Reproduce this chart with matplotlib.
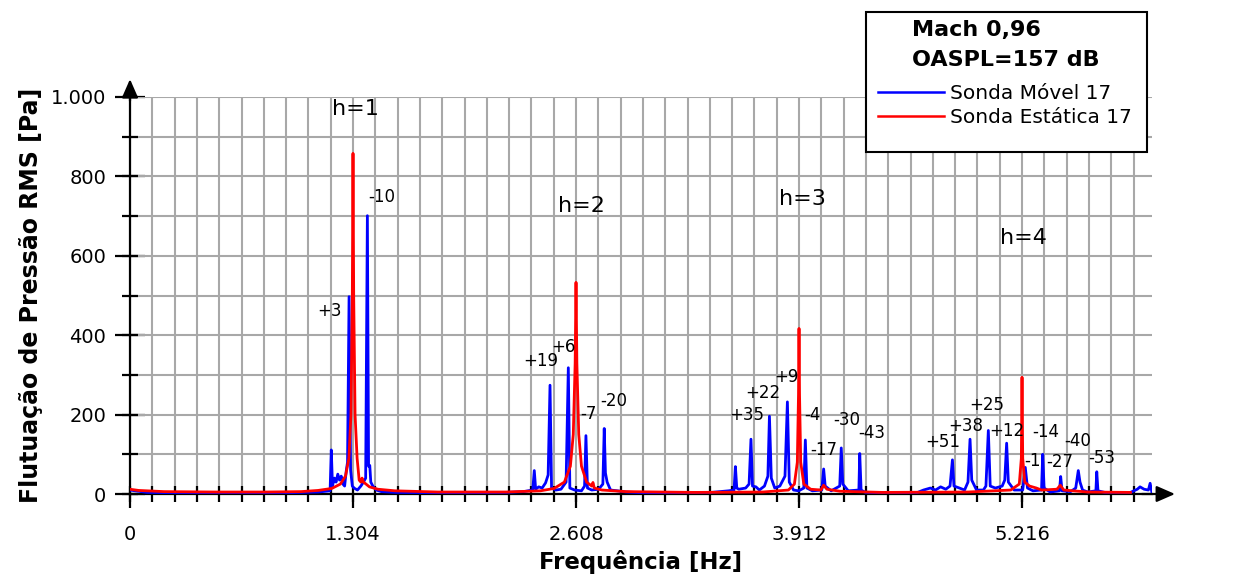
import matplotlib
matplotlib.use("Agg")
import matplotlib.pyplot as plt
from matplotlib.lines import Line2D
from matplotlib.patches import Rectangle
import numpy as np

# ---- data (Hz, Pa) ----
BLUE_FREQ = [
    0, 30, 100, 300, 600, 900, 1100,
    1170, 1177, 1184, 1195, 1205, 1215, 1225, 1235, 1245, 1255, 1265, 1272, 1281, 1290,
    1300, 1310, 1330, 1350, 1365, 1378, 1388, 1395, 1402, 1408, 1420, 1440, 1470, 1550,
    1900, 2200, 2300, 2355, 2364, 2372, 2390, 2410, 2430, 2445, 2456, 2465, 2490, 2520,
    2550, 2563, 2572, 2600, 2640, 2658, 2666, 2675, 2700, 2740, 2765, 2773, 2780, 2790,
    2810, 2850, 2900, 3000, 3200, 3400, 3500,
    3532, 3540, 3548, 3560, 3600, 3620, 3631, 3640, 3660, 3680, 3710, 3730, 3739, 3750,
    3770, 3800, 3830, 3844, 3855, 3880, 3910, 3940, 3949, 3958, 3990, 4045, 4056, 4065,
    4100, 4150, 4159, 4168, 4200, 4262, 4267, 4275, 4300, 4450, 4600,
    4640, 4680, 4710, 4740, 4770, 4795, 4809, 4818, 4850, 4880, 4900, 4912, 4922, 4950,
    4990, 5005, 5019, 5030, 5060, 5100, 5115, 5126, 5136, 5170, 5220, 5235, 5248, 5280,
    5330, 5337, 5345, 5380, 5435, 5442, 5450, 5500, 5530, 5545, 5555, 5570, 5600, 5648,
    5653, 5660, 5700, 5850, 5890, 5906, 5930, 5955, 5965, 5975,
]
BLUE_AMP = [
    10, 8, 4, 3, 2, 3, 5,
    8, 111, 20, 40, 30, 50, 35, 45, 25, 20, 60, 80, 497, 60,
    20, 15, 10, 20, 30, 40, 701, 70, 72, 30, 20, 10, 6, 4,
    3, 4, 6, 10, 59, 12, 18, 15, 28, 48, 274, 15, 10, 12,
    30, 318, 15, 10, 8, 20, 147, 15, 10, 12, 25, 165, 53, 30,
    10, 8, 5, 3, 3, 4, 8,
    10, 69, 15, 12, 15, 25, 138, 20, 18, 10, 20, 45, 196, 40,
    15, 20, 45, 232, 30, 10, 8, 15, 136, 15, 8, 10, 63, 20,
    8, 20, 116, 25, 8, 10, 102, 10, 4, 3, 3,
    10, 15, 10, 18, 12, 20, 86, 20, 15, 10, 30, 138, 35, 10,
    10, 20, 160, 20, 15, 20, 35, 128, 30, 10, 10, 67, 15, 8,
    10, 100, 15, 5, 8, 44, 8, 6, 15, 59, 30, 10, 5, 8,
    56, 8, 4, 4, 12, 18, 12, 10, 27, 5,
]

RED_FREQ = [
    0, 50, 200, 500, 800, 1000, 1100, 1180, 1230, 1260, 1280, 1292, 1300, 1304, 1308,
    1316, 1328, 1340, 1350, 1357, 1365, 1380, 1400, 1450, 1550, 1800, 2200, 2400, 2480,
    2540, 2575, 2592, 2603, 2608, 2613, 2624, 2640, 2670, 2700, 2707, 2715, 2760, 2900,
    3300, 3700, 3850, 3885, 3902, 3909, 3912, 3915, 3922, 3940, 3980, 4040, 4056, 4075,
    4150, 4400, 4900, 5150, 5200, 5212, 5216, 5220, 5232, 5260, 5300, 5330, 5420, 5440,
    5460, 5600, 5850,
]
RED_AMP = [
    12, 9, 6, 5, 5, 6, 9, 14, 25, 45, 90, 200, 500, 858, 500,
    200, 90, 35, 30, 40, 30, 25, 18, 12, 8, 5, 5, 8, 14,
    30, 70, 150, 330, 533, 330, 150, 70, 30, 20, 29, 15, 10, 6,
    4, 5, 10, 25, 80, 250, 417, 250, 80, 25, 12, 10, 22, 12,
    7, 4, 5, 10, 25, 90, 294, 90, 30, 20, 15, 10, 12, 22,
    10, 5, 4,
]

HARM_TEXT = ["h=1", "h=2", "h=3", "h=4"]
HARM_X = [1321, 2637, 3930, 5222]
HARM_Y = [970, 725, 743, 645]

PEAK_TEXT = ["+3", "-10", "+19", "+6", "-7", "-20", "+35", "+22", "+9", "-4", "-17",
             "-30", "-43", "+51", "+38", "+25", "+12", "-1", "-14", "-27", "-40", "-53"]
PEAK_X = [1167, 1471, 2403, 2535, 2681, 2827, 3605, 3701, 3836, 3988, 4058,
          4190, 4339, 4754, 4888, 5011, 5128, 5277, 5356, 5438, 5543, 5681]
PEAK_Y = [460, 749, 334, 370, 202, 234, 198, 254, 295, 200, 111,
          186, 154, 131, 171, 224, 159, 83, 156, 81, 134, 91]

X_TICKS = [0, 1304, 2608, 3912, 5216]
X_TICK_LABELS = ["0", "1.304", "2.608", "3.912", "5.216"]
Y_TICKS = [0, 200, 400, 600, 800, 1000]
Y_TICK_LABELS = ["0", "200", "400", "600", "800", "1.000"]

BLUE = "#0000ff"
RED = "#ff0000"
GRID = "#a8a8a8"

plt.rcParams["font.family"] = "DejaVu Sans"

fig = plt.figure(figsize=(12.43, 5.78), dpi=100)
ax = fig.add_axes([130 / 1243, 84 / 578, 1022 / 1243, 397 / 578])

ax.plot(BLUE_FREQ, BLUE_AMP, color=BLUE, lw=2, zorder=3)
ax.plot(RED_FREQ, RED_AMP, color=RED, lw=2, zorder=4)

ax.set_xlim(0, 5976)
ax.set_ylim(0, 1000)

# ticks and grid
ax.set_xticks(X_TICKS)
ax.set_xticklabels(X_TICK_LABELS)
ax.set_xticks(np.arange(0, 5900, 130.4), minor=True)
ax.set_yticks(Y_TICKS)
ax.set_yticklabels(Y_TICK_LABELS)
ax.set_yticks(np.arange(0, 1001, 100), minor=True)
ax.xaxis.remove_overlapping_locs = False
ax.yaxis.remove_overlapping_locs = False

ax.tick_params(axis="x", which="major", direction="out", length=10, width=1.6,
               labelsize=14, pad=12)
ax.tick_params(axis="x", which="minor", direction="inout", length=11, width=1.6)
ax.tick_params(axis="y", which="major", direction="inout", length=22, width=1.6,
               labelsize=14, pad=6)
ax.tick_params(axis="y", which="minor", direction="inout", length=11, width=1.6)

ax.grid(which="minor", color=GRID, lw=1.5)
ax.set_axisbelow(True)

for side in ("top", "right"):
    ax.spines[side].set_visible(False)
for side in ("left", "bottom"):
    ax.spines[side].set_linewidth(1.6)

arrow = dict(arrowstyle="-|>,head_length=0.8,head_width=0.35", color="black", lw=1.6,
             shrinkA=0, shrinkB=0, mutation_scale=14)
ax.annotate("", xy=(1.0225, 0), xytext=(0.99, 0), xycoords="axes fraction",
            arrowprops=arrow, annotation_clip=False)
ax.annotate("", xy=(0, 1.045), xytext=(0, 0.99), xycoords="axes fraction",
            arrowprops=arrow, annotation_clip=False)

for t, x, y in zip(HARM_TEXT, HARM_X, HARM_Y):
    ax.text(x, y, t, fontsize=16, ha="center", va="center", zorder=6)
for t, x, y in zip(PEAK_TEXT, PEAK_X, PEAK_Y):
    ax.text(x, y, t, fontsize=12, ha="center", va="center", zorder=6)

ax.set_xlabel("Frequência [Hz]", fontsize=16.5, fontweight="bold", labelpad=5)
ax.set_ylabel("Flutuação de Pressão RMS [Pa]", fontsize=17, fontweight="bold", labelpad=6)

# legend box with run info
box = Rectangle((866 / 1243, 426 / 578), 281 / 1243, 140 / 578, transform=fig.transFigure,
                facecolor="white", edgecolor="black", lw=1.5, zorder=5)
fig.add_artist(box)
fig.text(912 / 1243, 1 - 30 / 578, "Mach 0,96", fontsize=16, fontweight="bold",
         ha="left", va="center", zorder=6)
fig.text(912 / 1243, 1 - 60 / 578, "OASPL=157 dB", fontsize=16, fontweight="bold",
         ha="left", va="center", zorder=6)
handles = [Line2D([], [], color=BLUE, lw=1.8), Line2D([], [], color=RED, lw=1.8)]
leg = fig.legend(handles, ["Sonda Móvel 17", "Sonda Estática 17"], loc="upper left",
                 bbox_to_anchor=(878 / 1243, 1 - 84 / 578), frameon=False, fontsize=14.5,
                 handlelength=3.3, handletextpad=0.3, borderpad=0, borderaxespad=0,
                 labelspacing=0.25)
leg.set_zorder(7)

fig.savefig("out.png", dpi=100)
